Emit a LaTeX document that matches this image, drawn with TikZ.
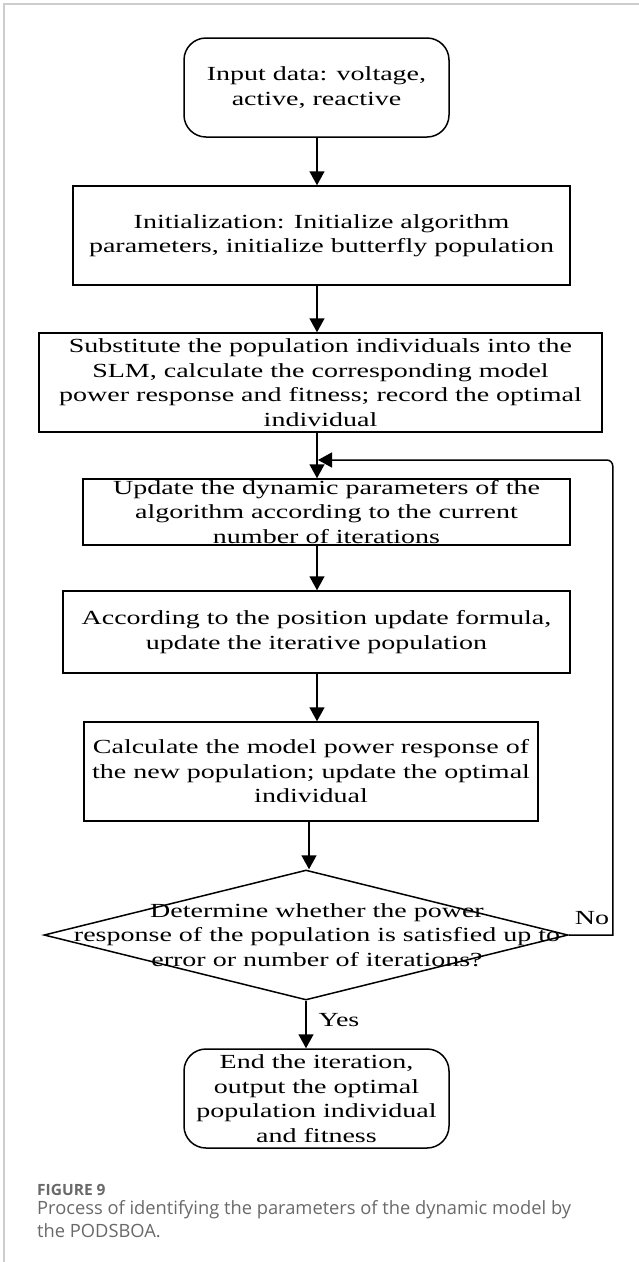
\documentclass[tikz,border=0pt]{standalone}
\usepackage{fontspec}
\usetikzlibrary{arrows.meta,shapes.geometric}
\newfontfamily\flowfont{Liberation Serif}[FakeStretch=1.4]
\newfontfamily\capfont{Open Sans}
\definecolor{framegray}{RGB}{205,205,205}
\definecolor{capgray}{RGB}{105,105,105}

\begin{document}
\begin{tikzpicture}[x=1pt,y=-1pt,
  flowtext/.style={font=\flowfont\fontsize{20}{24.5}\selectfont, align=center, inner sep=0pt},
  procbox/.style={flowtext, draw, line width=1.5pt, rectangle},
  termbox/.style={procbox, rounded corners=22pt},
  flowarrow/.style={line width=1.5pt, -{Triangle[length=14pt,width=15pt]}},
  captext/.style={anchor=base west, inner sep=0pt, text=capgray, font=\capfont\fontsize{18.3}{23.5}\selectfont},
]
\useasboundingbox (0,0) rectangle (639,1262);
% page frame (top and left rules)
\draw[framegray, line width=1.2pt] (4,1262) -- (4,4) -- (639,4);

% flow chart blocks
\node[termbox, minimum width=265pt, minimum height=99pt] (start) at (316.5,87.5)
  {Input data: voltage,\\active, reactive};
\node[procbox, minimum width=497pt, minimum height=99pt] (init) at (321.5,235.5)
  {Initialization: Initialize algorithm\\parameters, initialize butterfly population};
\node[procbox, minimum width=563pt, minimum height=99pt] (subst) at (320.5,382.5)
  {Substitute the population individuals into the\\SLM, calculate the corresponding model\\power response and fitness; record the optimal\\individual};
\node[procbox, minimum width=487pt, minimum height=66pt] (update) at (326.5,512)
  {Update the dynamic parameters of the\\algorithm according to the current\\number of iterations};
\node[procbox, minimum width=507pt, minimum height=82pt] (accord) at (316.5,632)
  {According to the position update formula,\\update the iterative population};
\node[procbox, minimum width=454pt, minimum height=99pt] (calc) at (311,771.5)
  {Calculate the model power response of\\the new population; update the optimal\\individual};
\node[diamond, draw, line width=1.5pt, minimum width=524pt, minimum height=130pt, inner sep=0pt] (dec) at (306,935) {};
\node[flowtext] (dectext) at (317,935)
  {Determine whether the power\\response of the population is satisfied up to\\error or number of iterations?};
\node[termbox, minimum width=265pt, minimum height=99pt] (finish) at (316.5,1098.5)
  {End the iteration,\\output the optimal\\population individual\\and fitness};

% branch labels
\node[flowtext] (nolabel) at (592,918) {No};
\node[flowtext] (yeslabel) at (339,1020) {Yes};

% connectors
\coordinate (colA) at (317,0);
\coordinate (colB) at (309,0);
\coordinate (loopin) at (318,460);
\draw[flowarrow] (start.south -| colA) -- (init.north -| colA);
\draw[flowarrow] (init.south -| colA) -- (subst.north -| colA);
\draw[flowarrow] (subst.south -| colA) -- (update.north -| colA);
\draw[flowarrow] (update.south -| colA) -- (accord.north -| colA);
\draw[flowarrow] (accord.south -| colA) -- (calc.north -| colA);
\draw[flowarrow] (calc.south -| colB) -- (dec.north -| colB);
\draw[flowarrow] (dec.south) -- (finish.north -| dec.south);
\draw[flowarrow] (dec.east) -- ++(44,0) [rounded corners=6pt] |- (loopin);

% caption
\node[anchor=base west, inner sep=0pt, text=capgray, font=\capfont\bfseries\fontsize{15.5}{18}\selectfont] (figlabel) at (37,1195) {FIGURE 9};
\node[captext] (capline1) at (37,1214) {Process of identifying the parameters of the dynamic model by};
\node[captext] (capline2) at (37,1237.5) {the PODSBOA.};
\end{tikzpicture}
\end{document}
